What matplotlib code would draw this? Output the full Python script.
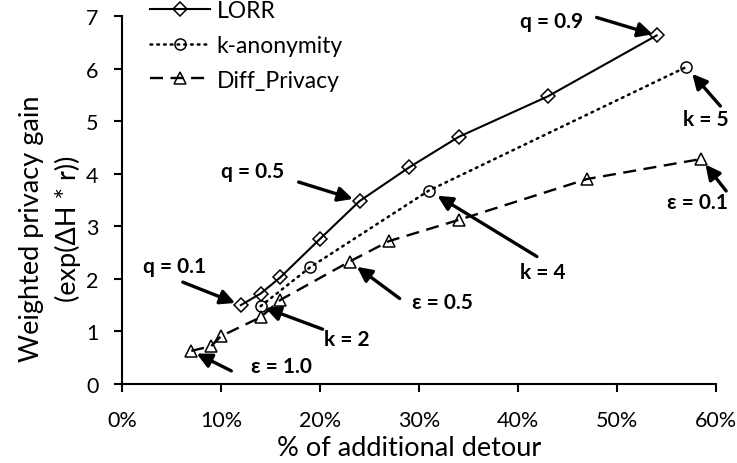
import matplotlib
matplotlib.use("Agg")
import matplotlib.pyplot as plt
from matplotlib.ticker import FuncFormatter

plt.rcParams["font.family"] = ["Lato", "DejaVu Sans"]

# % of additional detour vs. weighted privacy gain
lorr_x = [12, 14, 16, 20, 24, 29, 34, 43, 54]
lorr_y = [1.50, 1.72, 2.03, 2.76, 3.48, 4.12, 4.70, 5.47, 6.63]

kanon_x = [14, 19, 31, 57]
kanon_y = [1.48, 2.22, 3.68, 6.03]

dp_x = [7, 9, 10, 14, 16, 23, 27, 34, 47, 58.5]
dp_y = [0.63, 0.72, 0.91, 1.27, 1.60, 2.33, 2.72, 3.12, 3.90, 4.28]

# label, series, point index, arrow gap / tail / text offsets in pixels
notes = [
    ("q = 0.1", "lorr", 0, 6, (-58, 23), (-66, 39)),
    ("q = 0.5", "lorr", 4, 7, (-61, 19), (-107, 30)),
    ("q = 0.9", "lorr", 8, 4, (-60, 18), (-105, 14)),
    ("k = 2", "kanon", 0, 5, (62, -23), (86, -33)),
    ("k = 4", "kanon", 2, 10, (108, -66), (114, -81)),
    ("k = 5", "kanon", 3, 9, (34, -39), (20, -52)),
    ("ε = 1.0", "dp", 0, 6, (40, -20), (90, -15)),
    ("ε = 0.5", "dp", 5, 9, (50, -37), (93, -40)),
    ("ε = 0.1", "dp", 9, 7, (25, -32), (-4, -43)),
]

fig = plt.figure(figsize=(7.37, 4.64), dpi=100)
ax = fig.add_axes([122 / 737, 79 / 464, 594 / 737, 368 / 464])

ax.plot(lorr_x, lorr_y, color="black", lw=1.5, marker="D", markersize=7,
        markerfacecolor="none", markeredgewidth=1.1, label="LORR")
ax.plot(kanon_x, kanon_y, color="black", lw=1.8, linestyle=(0, (0.7, 2.0)),
        dash_capstyle="round", marker="o", markersize=8,
        markerfacecolor="none", markeredgewidth=1.1, label="k-anonymity")
ax.plot(dp_x, dp_y, color="black", lw=1.7, linestyle=(0, (5.5, 3.2)),
        marker="^", markersize=8, markerfacecolor="none",
        markeredgewidth=1.1, label="Diff_Privacy")

series = {"lorr": (lorr_x, lorr_y), "kanon": (kanon_x, kanon_y), "dp": (dp_x, dp_y)}
for label, key, i, gap, tail, txt in notes:
    xs, ys = series[key]
    pt = (xs[i], ys[i])
    ax.annotate("", xy=pt, xytext=tail, textcoords="offset pixels",
                arrowprops=dict(arrowstyle="-|>", color="black", lw=2.4,
                                mutation_scale=22, shrinkA=0,
                                shrinkB=gap * 0.72))
    ax.annotate(label, xy=pt, xytext=txt, textcoords="offset pixels",
                ha="center", va="center", fontsize=15, fontweight="bold")

ax.set_xlim(0, 60)
ax.set_ylim(0, 7)
ax.set_xticks(range(0, 61, 10))
ax.set_yticks(range(0, 8))
ax.xaxis.set_major_formatter(FuncFormatter(lambda v, p: f"{v:.0f}%"))

for side in ("top", "right"):
    ax.spines[side].set_visible(False)
for side in ("left", "bottom"):
    ax.spines[side].set_linewidth(1.5)
ax.tick_params(direction="out", length=6, width=1.5, labelsize=15.5)
ax.tick_params(axis="x", pad=13)
ax.tick_params(axis="y", pad=11)

ax.set_xlabel("% of additional detour", fontsize=19.5, va="baseline")
ax.set_ylabel("Weighted privacy gain\n(exp(ΔH * r))", fontsize=19.5,
              linespacing=1.55, va="center")
ax.xaxis.set_label_coords(0.483, -0.193)
ax.yaxis.set_label_coords(-0.121, 0.425)

ax.legend(loc="upper left", bbox_to_anchor=(150 / 737, 1 - 1 / 464),
          bbox_transform=fig.transFigure, frameon=False, fontsize=16.5,
          handlelength=2.6, handletextpad=0.3, labelspacing=0.6,
          borderpad=0, borderaxespad=0)

fig.savefig("out.png", dpi=100)
